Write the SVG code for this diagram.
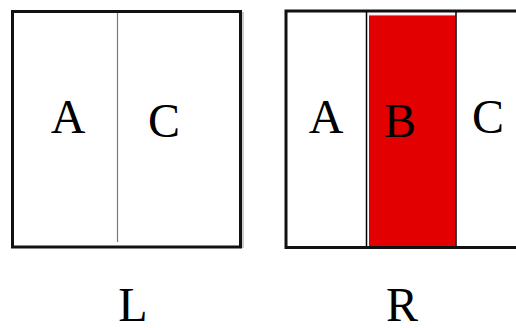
<svg xmlns="http://www.w3.org/2000/svg" width="516" height="328" viewBox="0 0 516 328">
<style>
.frame{fill:#fff;stroke:#111;stroke-width:3}
.div{stroke:#777;stroke-width:1.2}
.bdiv{stroke:#000;stroke-width:1.5}
text{font-family:'Liberation Serif',serif;font-size:48px;fill:#000;text-anchor:middle}
</style>
<rect width="516" height="328" fill="#fff"/>
<g id="L">
<line x1="243" y1="12" x2="243" y2="248" stroke="#999" stroke-width="1"/>
<rect class="frame" x="12.5" y="11.5" width="228" height="235.5"/>
<line class="div" x1="117.5" y1="13" x2="117.5" y2="242"/>
<text x="68" y="133" font-family="Liberation Serif, serif">A</text>
<text x="164" y="137" font-family="Liberation Serif, serif">C</text>
<text x="133" y="321" font-family="Liberation Serif, serif">L</text>
</g>
<g id="R">
<path d="M520 11 H286 V247.5 H520" fill="#fff" stroke="#111" stroke-width="3"/>
<rect x="369" y="15" width="86.5" height="231" fill="#e30000"/>
<line x1="369" y1="15.3" x2="455" y2="15.3" stroke="#f4a0a0" stroke-width="0.8"/>
<line class="bdiv" x1="366.5" y1="12" x2="366.5" y2="246"/>
<line class="bdiv" x1="456" y1="12" x2="456" y2="246"/>
<text x="326" y="133" font-family="Liberation Serif, serif">A</text>
<text x="400" y="137" font-family="Liberation Serif, serif">B</text>
<text x="488" y="133" font-family="Liberation Serif, serif">C</text>
<text x="402" y="321" font-family="Liberation Serif, serif">R</text>
</g>
</svg>
